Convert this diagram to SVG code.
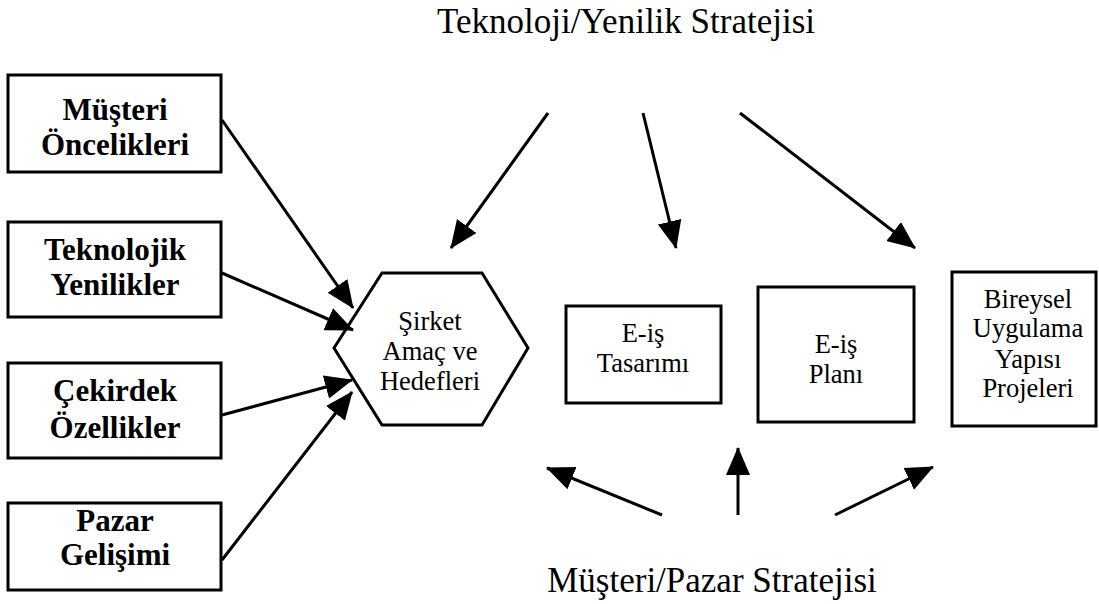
<svg xmlns="http://www.w3.org/2000/svg" width="1099" height="604" viewBox="0 0 1099 604">
<style>
.box{fill:#fff;stroke:#000;stroke-width:3}
.bt{font-family:"Liberation Serif",serif;font-weight:bold;font-size:31px;text-anchor:middle;fill:#000}
.nt{font-family:"Liberation Serif",serif;font-size:26.5px;text-anchor:middle;fill:#000}
.tt{font-family:"Liberation Serif",serif;font-size:35px;text-anchor:middle;fill:#000}
.conn line{stroke:#000;stroke-width:3;marker-end:url(#ah)}
</style>
<defs>
<marker id="ah" markerUnits="userSpaceOnUse" markerWidth="28" markerHeight="28" viewBox="0 0 28 28" refX="27" refY="14" orient="auto">
<path d="M0,2 L28,14 L0,26 Z" fill="#000"/>
</marker>
</defs>
<rect width="1099" height="604" fill="#fff"/>
<g id="title-top"><text class="tt" x="626" y="33">Teknoloji/Yenilik Stratejisi</text></g>
<g id="title-bottom"><text class="tt" x="712" y="592">Müşteri/Pazar Stratejisi</text></g>
<g id="n-musteri"><rect class="box" x="8" y="75" width="213" height="97"/><text class="bt" x="115" y="120">Müşteri</text><text class="bt" x="115" y="155">Öncelikleri</text></g>
<g id="n-teknolojik"><rect class="box" x="8" y="222" width="213" height="95"/><text class="bt" x="115" y="260">Teknolojik</text><text class="bt" x="115" y="295">Yenilikler</text></g>
<g id="n-cekirdek"><rect class="box" x="8" y="363" width="213" height="95"/><text class="bt" x="115" y="401">Çekirdek</text><text class="bt" x="115" y="438">Özellikler</text></g>
<g id="n-pazar"><rect class="box" x="8" y="503" width="213" height="87"/><text class="bt" x="115" y="531">Pazar</text><text class="bt" x="115" y="565">Gelişimi</text></g>
<g id="n-sirket"><polygon class="box" points="334,348 382,273 482,273 528,348 482,425 382,425"/><text class="nt" x="430" y="330">Şirket</text><text class="nt" x="430" y="360">Amaç ve</text><text class="nt" x="430" y="390">Hedefleri</text></g>
<g id="n-tasarim"><rect class="box" x="566" y="306" width="155" height="97"/><text class="nt" x="643" y="342">E-iş</text><text class="nt" x="643" y="372">Tasarımı</text></g>
<g id="n-plan"><rect class="box" x="758" y="287" width="156" height="135"/><text class="nt" x="836" y="353">E-iş</text><text class="nt" x="836" y="383">Planı</text></g>
<g id="n-bireysel"><rect class="box" x="952" y="272" width="144" height="154"/><text class="nt" x="1028" y="308">Bireysel</text><text class="nt" x="1028" y="337">Uygulama</text><text class="nt" x="1028" y="368">Yapısı</text><text class="nt" x="1028" y="397">Projeleri</text></g>
<g id="connectors" class="conn">
<line x1="222" y1="120" x2="353" y2="308"/>
<line x1="222" y1="273" x2="353" y2="330"/>
<line x1="222" y1="415" x2="352" y2="380"/>
<line x1="222" y1="560" x2="352" y2="392"/>
<line x1="548" y1="113" x2="451" y2="248"/>
<line x1="643" y1="113" x2="676" y2="248"/>
<line x1="740" y1="113" x2="915" y2="248"/>
<line x1="662" y1="515" x2="547" y2="468"/>
<line x1="738" y1="515" x2="738" y2="448"/>
<line x1="835" y1="515" x2="933" y2="467"/>
</g>
</svg>
